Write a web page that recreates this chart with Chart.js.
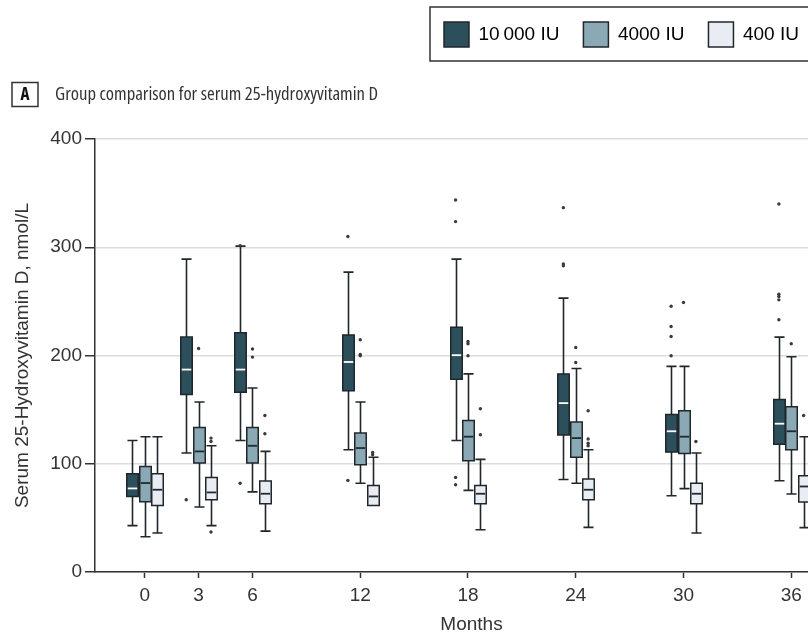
<!DOCTYPE html>
<html><head><meta charset="utf-8">
<script src="https://cdn.jsdelivr.net/npm/chart.js@4.4.1/dist/chart.umd.min.js"></script>
<style>
html,body{margin:0;padding:0;background:#fff;overflow:hidden;width:808px;height:641px;}
#wrap{position:absolute;left:0;top:0;width:852px;height:641px;}
</style></head><body>
<div id="wrap"><canvas id="c" width="852" height="641"></canvas></div>
<script>
// ---------------- data ----------------
const MONTHS = [0, 3, 6, 12, 18, 24, 30, 36];
const X_TICKS = [0, 3, 6, 12, 18, 24, 30, 36];
const Y_TICKS = [0, 100, 200, 300, 400];
const GROUPS = ['10\u2009000 IU', '4000 IU', '400 IU'];
const PANEL = 'A';
const TITLE = 'Group comparison for serum 25-hydroxyvitamin D';
const Y_TITLE = 'Serum 25-Hydroxyvitamin D, nmol/L';
const X_TITLE = 'Months';

// per month: [lower whisker, Q1, median, Q3, upper whisker]
const BOX_10000 = [
  [42.8, 69.8, 77.2, 90.8, 121.5],
  [110, 164, 187, 217, 289],
  [121.5, 166, 187, 221, 301],
  [113, 167.4, 194, 219, 277],
  [121.5, 178, 200.3, 226, 289],
  [85.5, 126.5, 156, 183, 253],
  [70.5, 110.8, 130, 145.5, 190],
  [84.3, 118, 137, 159.4, 217]
];
const BOX_4000 = [
  [32.6, 65, 82.2, 97.5, 125],
  [60, 100.6, 111.4, 133.5, 157],
  [74, 100.6, 116.6, 133.5, 170],
  [82, 99, 114.5, 128.3, 157],
  [75.4, 102.8, 125, 140, 183],
  [82, 106, 123.7, 138.5, 188],
  [77, 109.5, 125, 149, 190],
  [72, 113, 130, 152.6, 198.8]
];
const BOX_400 = [
  [36, 61.5, 76, 90.8, 125],
  [42.8, 66.8, 73.5, 87.4, 116.6],
  [37.8, 63, 72.3, 84, 111.4],
  [61.5, 61.5, 69.8, 80, 106],
  [39, 63, 72.3, 80, 104],
  [41.2, 66.8, 76, 85.8, 113],
  [36, 63, 72.3, 82, 110],
  [41, 64.6, 79, 89, 125]
];
// outliers: [month, value]
const OUT_10000 = [[3, 66.8], [6, 301.5], [6, 82], [12, 310], [12, 84.6], [18, 343.7], [18, 323.7], [18, 87.4], [18, 80.6],
  [24, 336.6], [24, 284.6], [24, 282.8], [30, 245.5], [30, 226.8], [30, 217.5], [30, 199.7],
  [36, 340], [36, 256.6], [36, 254.5], [36, 251.4], [36, 233]];
const OUT_4000 = [[3, 206.5], [6, 206], [6, 198.5], [12, 214.5], [12, 201], [12, 199.7], [18, 213], [18, 210.8], [18, 199.7],
  [24, 207.4], [24, 193.5], [30, 249], [36, 210.8]];
const OUT_400 = [[3, 123.7], [3, 120.6], [3, 37], [6, 144.6], [6, 127.7], [12, 110.5], [12, 108.3], [18, 150.8], [18, 126.8],
  [24, 149], [24, 122.8], [24, 119], [24, 116.6], [30, 120.6], [36, 144.6]];

// ---------------- styling ----------------
const FILLS = ['#2c4f5b', '#8ba9b4', '#e9edf3'];
const MEDIAN_COLORS = ['#ffffff', '#1f2a30', '#1f2a30'];
const EDGE = '#1f272b';
const INK = '#333333';
const GROUP_OFFSET = [-0.69, 0, 0.69];   // months, dodge within a visit
const BOX_WIDTH = 0.64;                 // months
const CAP_WIDTH = 0.56;                 // months
const FONT = "'Liberation Sans', Arial, sans-serif";

const SERIES = [
  {box: BOX_10000, out: OUT_10000},
  {box: BOX_4000, out: OUT_4000},
  {box: BOX_400, out: OUT_400}
];

// pick a condensed face for the panel title whose size at the reference width is closest to ~18px
function titleFont() {
  const c = document.createElement('canvas').getContext('2d');
  const cands = [
    {w: 'normal', f: "'Liberation Sans Narrow'"},
    {w: 'normal', f: "'Noto Sans SemiCondensed'"},
    {w: 'normal', f: "'Noto Sans Condensed'"},
    {w: 'normal', f: "'Roboto Condensed'"},
    {w: 'normal', f: "'Open Sans Condensed'"},
    {w: 'normal semi-condensed', f: "'Noto Sans'"},
    {w: 'normal condensed', f: "'Noto Sans'"},
    {w: 'normal semi-condensed', f: "'Open Sans'"},
    {w: 'normal condensed', f: "'Open Sans'"},
    {w: 'normal condensed', f: "Roboto"},
    {w: 'normal', f: "'DejaVu Sans Condensed'"},
    {w: 'normal', f: "'Liberation Sans'"}
  ];
  c.font = '20px monospace';
  const mono = c.measureText(TITLE).width;
  let best = null;
  for (const k of cands) {
    c.font = '20px monospace';
    c.font = k.w + ' 20px ' + k.f + ', monospace';
    const a = c.measureText(TITLE).width;
    if (Math.abs(a - mono) < 0.5) continue;
    const size = 20 * 323 / a;
    const score = Math.abs(size - 18);
    if (!best || score < best.score) best = {score, size, w: k.w, f: k.f};
  }
  if (!best) return {family: FONT, weight: 'normal', size: 14.6};
  return {family: best.f + ', ' + FONT, weight: best.w, size: +best.size.toFixed(2)};
}
const TF = titleFont();
const TLH = TF.size * 1.2;

const LEG_PAD = 24;

const boxPlugin = {
  id: 'boxes',
  beforeDatasetsDraw(chart) {
    const {ctx, scales: {x, y}} = chart;
    const px = v => x.getPixelForValue(v);
    const hw = (px(BOX_WIDTH) - px(0)) / 2;
    const cw = (px(CAP_WIDTH) - px(0)) / 2;
    ctx.save();
    SERIES.forEach((s, gi) => {
      s.box.forEach((b, mi) => {
        const cx = Math.round(px(MONTHS[mi] + GROUP_OFFSET[gi])) + 0.5;
        const [lo, q1, md, q3, hi] = b.map(v => y.getPixelForValue(v));
        ctx.strokeStyle = EDGE;
        ctx.lineWidth = 1.6;
        ctx.beginPath();
        if (b[4] > b[3]) { ctx.moveTo(cx, hi); ctx.lineTo(cx, q3); ctx.moveTo(cx - cw, hi); ctx.lineTo(cx + cw, hi); }
        if (b[0] < b[1]) { ctx.moveTo(cx, q1); ctx.lineTo(cx, lo); ctx.moveTo(cx - cw, lo); ctx.lineTo(cx + cw, lo); }
        ctx.stroke();
        ctx.fillStyle = FILLS[gi];
        ctx.beginPath();
        ctx.rect(cx - hw, q3, hw * 2, q1 - q3);
        ctx.fill();
        ctx.lineWidth = 1.5;
        ctx.stroke();
        ctx.strokeStyle = MEDIAN_COLORS[gi];
        ctx.lineWidth = 1.8;
        ctx.beginPath();
        ctx.moveTo(cx - hw + 1, md); ctx.lineTo(cx + hw - 1, md);
        ctx.stroke();
      });
    });
    ctx.restore();
  }
};

const framePlugin = {
  id: 'frames',
  afterLayout(chart) {
    chart.legend.left = 444 - LEG_PAD;
    chart.legend.top = -2;
    chart.titleBlock.left = 55;
  },
  afterDraw(chart) {
    const ctx = chart.ctx;
    const lg = chart.legend;
    ctx.save();
    ctx.strokeStyle = INK;
    ctx.lineWidth = 1.5;
    const bx = lg.left + LEG_PAD - 14, by = lg.top + LEG_PAD - 15;
    ctx.strokeRect(bx, by, chart.width - bx + 20, 54);
    // panel letter box
    const tb = chart.titleBlock;
    const cy = tb.top + chart.options.plugins.title.padding.top + TLH / 2;
    ctx.strokeRect(12, cy - 12, 26, 24);
    ctx.fillStyle = '#111';
    ctx.font = TF.weight.replace('normal', 'bold') + " 17px " + TF.family;
    ctx.textAlign = 'center';
    ctx.textBaseline = 'middle';
    ctx.fillText(PANEL, 25, cy + 0.5);
    ctx.restore();
  }
};

new Chart(document.getElementById('c'), {
  type: 'scatter',
  data: {
    datasets: SERIES.map((s, gi) => ({
      label: GROUPS[gi],
      data: s.out.map(([m, v]) => ({x: m + GROUP_OFFSET[gi], y: v})),
      pointRadius: 1.7,
      pointBackgroundColor: '#3a3a3a',
      pointBorderWidth: 0,
      showLine: false
    }))
  },
  options: {
    responsive: false,
    animation: false,
    devicePixelRatio: 1,
    events: [],
    layout: {padding: 0},
    plugins: {
      legend: {
        display: true, position: 'top', align: 'start', weight: 3000,
        labels: {
          boxWidth: 25, boxHeight: 25, padding: LEG_PAD, color: INK,
          font: {family: FONT, size: 19},
          generateLabels: () => GROUPS.map((g, i) => ({
            text: g, fillStyle: FILLS[i], strokeStyle: EDGE, lineWidth: 1.5, hidden: false, datasetIndex: i
          }))
        }
      },
      title: {
        display: true, text: TITLE, align: 'start', color: INK,
        font: {family: TF.family, size: TF.size, weight: TF.weight},
        padding: {top: 35.5 - TLH / 2, bottom: 80 - TLH - (35.5 - TLH / 2)}
      },
      tooltip: {enabled: false}
    },
    scales: {
      x: {
        type: 'linear', min: -2.77, max: 39.16,
        afterFit(s) { s.height = 69; },
        afterBuildTicks(s) { s.ticks = X_TICKS.map(v => ({value: v})); },
        grid: {drawOnChartArea: false, drawTicks: true, tickLength: 6, tickColor: INK, tickWidth: 1.5},
        border: {display: true, color: INK, width: 1.5},
        ticks: {autoSkip: false, maxRotation: 0, padding: 6, color: INK, font: {family: FONT, size: 19},
          callback: v => String(v)},
        title: {display: true, text: X_TITLE, color: INK, font: {family: FONT, size: 19}, padding: {top: 0, bottom: 4.6}}
      },
      y: {
        type: 'linear', min: 0, max: 400,
        afterFit(s) { s.width = 95; },
        afterBuildTicks(s) { s.ticks = Y_TICKS.map(v => ({value: v})); },
        grid: {color: '#dcdcdc', lineWidth: 1.5, drawTicks: true, tickLength: 10, tickColor: INK, tickWidth: 1.5},
        border: {display: true, color: INK, width: 1.5},
        ticks: {padding: 3, color: INK, font: {family: FONT, size: 19}, callback: v => String(v)},
        title: {display: true, text: Y_TITLE, color: INK, font: {family: FONT, size: 19}, padding: {top: 11.6, bottom: 0}}
      }
    }
  },
  plugins: [boxPlugin, framePlugin]
});
</script>
</body></html>
